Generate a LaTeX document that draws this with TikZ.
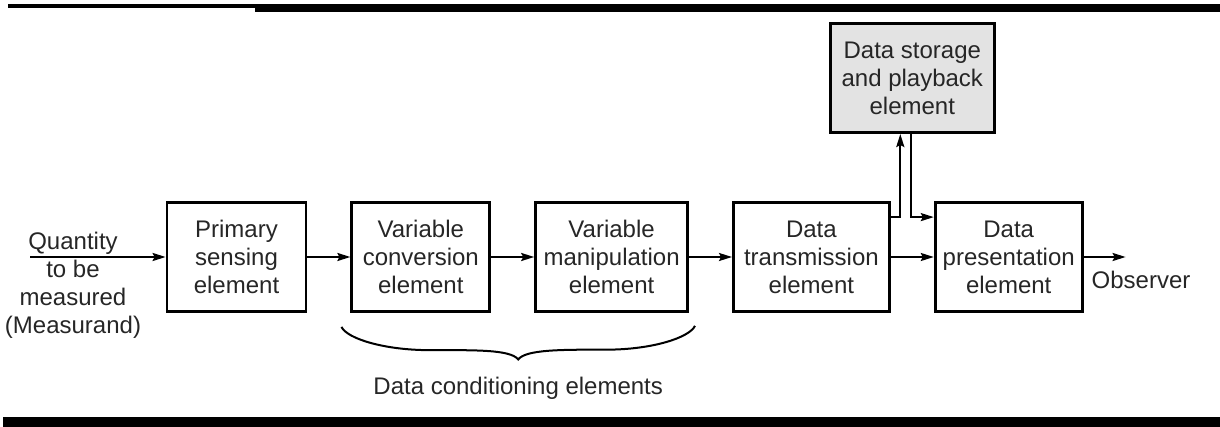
\documentclass[tikz,border=0pt]{standalone}
\usepackage{fontspec}
\setmainfont{Liberation Sans}
\usetikzlibrary{arrows.meta, positioning, calc}

\begin{document}
\begin{tikzpicture}[
  x=0.5pt, y=-0.5pt,
  node distance=10pt and 21.5pt,
  box/.style={rectangle, draw=black, line width=1.4pt, minimum width=69.5pt, minimum height=54.5pt, align=center, font=\fontsize{12}{14}\selectfont, text=black!85, inner sep=2pt},
  lbl/.style={font=\fontsize{12}{14}\selectfont, text=black!85, align=center, inner sep=0pt},
  arr/.style={-{Stealth[length=6.5pt, width=4pt, inset=1pt]}, line width=1pt}
]
\useasboundingbox (0,0) rectangle (1220,427);
% page edges of the scan
\fill (8,4) rectangle (255,8.5);
\fill (255,4.5) rectangle (1220,12);
\fill (3,417) rectangle (1220,427);

\node[box] (sense) at (236.5,257) {Primary\\sensing\\element};
\node[box, right=of sense, minimum width=69pt] (conv) {Variable\\conversion\\element};
\node[box, right=of conv, minimum width=76pt] (manip) {Variable\\manipulation\\element};
\node[box, right=of manip, minimum width=78pt] (trans) {Data\\transmission\\element};
\node[box, right=of trans, minimum width=73.5pt] (pres) {Data\\presentation\\element};
\coordinate (gap) at ($(trans.east)!.5!(pres.west)$);
\node[box, above=61.5pt of gap, minimum width=82pt, fill=black!11] (store) {Data storage\\and playback\\element};

\node[lbl] (quant) at (73,285.5) {Quantity\\to be\\measured\\(Measurand)};
\coordinate (src) at (30,257);
\coordinate (obs) at ([xshift=21pt]pres.east);
\node[lbl, anchor=base] (observer) at (1141,288) {Observer};

\draw[arr] (src) -- (sense);
\draw[arr] (sense) -- (conv);
\draw[arr] (conv) -- (manip);
\draw[arr] (manip) -- (trans);
\draw[arr] (trans) -- (pres);
\draw[arr] (pres) -- (obs);
\draw[arr] ([yshift=-8pt]trans.north east) -| ([xshift=-6pt]store.south);
\draw[arr] ([xshift=-0.5pt]store.south) |- ([yshift=-8pt]pres.north west);

% brace under the conditioning elements
\coordinate (bl) at ([xshift=-4.5pt, yshift=-7pt]conv.south west);
\coordinate (br) at ([xshift=3pt, yshift=-6.5pt]manip.south east);
\coordinate (tip) at ($(bl)!.5!(br)+(0,33)$);
\draw[line width=1pt] (bl) .. controls +(6,12) and +(-45,0) .. ($(bl)!.5!(tip)+(0,7)$)
  .. controls +(45,0) and +(-8,-10) .. (tip)
  .. controls +(8,-10) and +(-45,0) .. ($(br)!.5!(tip)+(0,7)$)
  .. controls +(45,0) and +(-6,12) .. (br);
\node[lbl, anchor=base] (cond) at ([yshift=-17.5pt]tip) {Data conditioning elements};
\end{tikzpicture}
\end{document}
